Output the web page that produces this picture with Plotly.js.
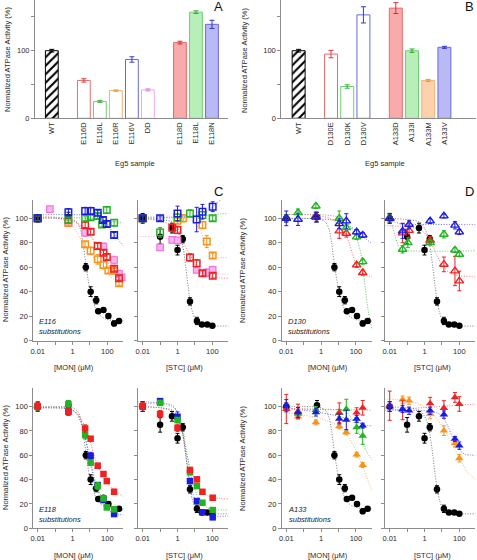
<!DOCTYPE html>
<html><head><meta charset="utf-8">
<script src="https://cdn.plot.ly/plotly-3.0.1.min.js"></script>
<style>html,body{margin:0;padding:0;background:#fff}#chart{width:477px;height:560px}</style>
</head><body><div id="chart"></div>
<script>
// ---------- Panel A / B bar data ----------
const catsA = ['WT','E116D','E116L','E116R','E116V','DD','E118D','E118L','E118N'];
const groupA = [0,1,1,1,1,1,2,2,2];
const valsA = [100,56,25,41,87,42,112,157,139];
const errA  = [2,2.5,1.5,1,4,1.5,2,2,6];

const catsB = ['WT','D130E','D130K','D130V','A133D','A133I','A133M','A133V'];
const groupB = [0,1,1,1,2,2,2,2];
const valsB = [100,95,47,153,163,100,56,105];
const errB  = [2,5.5,2.5,12,8,2.5,1.5,1.5];

// ---------- WT control (black circles) ----------
const wtMon_x = [0.01,0.58,5.8,11,23,30,60,115,245,470];
const wtMon_y = [100,101,60,40,33,24,25,20,14,16];
const wtMon_e = [3,4,3,4,3,1.5,1.5,2,2,1.5];
const wtMonFit_x = [0.005,0.1,1,2,3,4,6,9,13,20,35,80,200,900];
const wtMonFit_y = [100,100,99,96,90,80,61,45,35,27,21,17.5,16.5,16];
const wtStc_x = [0.01,0.1,0.48,1.0,2.0,5.2,13,25,51,100];
const wtStc_y = [100,85,92,74,83,32,16,13,13,12];
const wtStc_e = [4,6,4,4,3,3,3,1,1,1];
const wtStcFit_x = [0.005,0.1,0.5,1,1.5,2,3,4,5,7,10,20,50,900];
const wtStcFit_y = [100,99,97,92,86,78,60,45,35,24,18,13.5,12,12];

// ---------- E116 substitutions, MON ----------
const e116MonV_x = [0.01,0.58,5.3,11,28,56,93,245];
const e116MonV_y = [100,105,106,106,104.6,98.6,95.3,86.4];
const e116MonV_e = [3,3,3,3,2,2,2,2];
const e116MonVFit_x = [0.005,1,10,30,60,100,200,400,900];
const e116MonVFit_y = [103,103,102.5,101,98,95,89,83,77];
const e116MonL_x = [0.01,0.58,5.3,11,28,50,93,245];
const e116MonL_y = [100,98.6,100,100.8,101.9,95,106.8,96.4];
const e116MonL_e = [2,2,2,2,2,2,2.5,2.5];
const e116MonLFit_x = [0.005,1,10,100,900];
const e116MonLFit_y = [101,100.5,100,98,96];
const e116MonD_x = [0.01,5.3,11,28,60,93,245,470];
const e116MonD_y = [100,94.5,89,77.4,71.9,68.4,58.8,51];
const e116MonD_e = [2,2,2,2,2,2,2,2];
const e116MonDFit_x = [0.005,0.1,1,3,10,30,100,300,900];
const e116MonDFit_y = [101,100.5,98,94,86,76,64,55,50];
const e116MonR_x = [0.01,0.58,5.3,11,28,60,115,245,470];
const e116MonR_y = [100,96.4,78.7,73.5,66.5,61.8,57.2,57,46.9];
const e116MonR_e = [2,3,2,3,4,3,2,2,2];
const e116MonRFit_x = [0.005,0.1,0.5,1,3,10,30,100,300,900];
const e116MonRFit_y = [102,101,98,94,83,72,63,55,49,45];
const e116MonDD_x = [0.05,0.58,5.3,60,245,470,670];
const e116MonDD_y = [107.6,96,88.2,76.8,65.9,54.5,51.6];
const e116MonDD_e = [2,2,3,3,3,3,3];
const e116MonDDFit_x = [0.005,0.1,1,3,10,30,100,300,900];
const e116MonDDFit_y = [101,100,97,93,86,78,68,57,50];

// ---------- E116 substitutions, STC ----------
const e116StcV_x = [0.01,0.1,1,12.6,27,105];
const e116StcV_y = [100,100,104,99,105.4,109.5];
const e116StcV_e = [2,2,6,10,6,4];
const e116StcVFit_x = [0.005,1,10,30,100,300,900];
const e116StcVFit_y = [101,101,102,104,109,115,118];
const e116StcL_x = [0.01,0.1,1,5.2,27,105];
const e116StcL_y = [100,88.5,100.6,104,102.7,100];
const e116StcL_e = [3,4,3,3,3,2];
const e116StcLFit_x = [0.005,1,10,100,900];
const e116StcLFit_y = [100,100.5,101,103,104];
const e116StcR_x = [1,2.1,27,48,105];
const e116StcR_y = [98,100,94.5,81,69.5];
const e116StcR_e = [2,3,3,5,2];
const e116StcRFit_x = [0.005,1,5,10,20,40,80,200,900];
const e116StcRFit_y = [101,100.5,99,96,90,80,72,68,68];
const e116StcD_x = [0.01,0.5,1,5.2,12.6,27,105];
const e116StcD_y = [100,92.3,90.5,68,63.2,55,53];
const e116StcD_e = [2,3,3,3,3,2,2];
const e116StcDFit_x = [0.005,0.1,0.5,1,2,5,10,30,100,900];
const e116StcDFit_y = [100,98,94,89,81,71,63,56,52,51];
const e116StcDD_x = [0.1,0.5,1,12.6,48,105];
const e116StcDD_y = [76.3,82.3,82,57.8,55.6,57.8];
const e116StcDD_e = [2,2,2,2,3,3];
const e116StcDDFit_x = [0.005,0.1,1,3,10,30,100,900];
const e116StcDDFit_y = [85,84.5,80,72,62,57,55,54];

// ---------- D130 substitutions, MON ----------
const d130MonV_x = [0.01,0.047,0.5,11,28,110,245];
const d130MonV_y = [100,99.2,101,95.6,97.8,88.8,86.3];
const d130MonV_e = [6,5,4,4,6,2,2];
const d130MonVFit_x = [0.005,1,10,30,100,300,900];
const d130MonVFit_y = [100,99.5,98,95,90,84,79];
const d130MonK_x = [0.01,0.047,0.5,11,28,110,245];
const d130MonK_y = [100,104.6,110,100,92.3,84.7,64.5];
const d130MonK_e = [3,3,2,6,3,2,2];
const d130MonKFit_x = [0.005,1,10,30,100,200,300,500,800];
const d130MonKFit_y = [103,103,101,97,85,70,50,25,10];
const d130MonE_x = [0.01,0.5,11,28,110,245];
const d130MonE_y = [100,101.9,89.6,87.7,61.8,55.5];
const d130MonE_e = [3,3,6,3,2,2];
const d130MonEFit_x = [0.005,0.5,3,10,30,60,100,200,400,900];
const d130MonEFit_y = [103,102.5,100,95,85,72,63,56,53,52];

// ---------- D130 substitutions, STC ----------
const d130StcV_x = [0.01,0.055,0.13,2.1,13,56,100];
const d130StcV_y = [100,89.6,95,97.8,101.9,94.3,88.8];
const d130StcV_e = [4,6,3,2,1.5,3,2];
const d130StcVFit_x = [0.005,0.02,0.05,1,100,900];
const d130StcVFit_y = [99,97,95,95,95,95];
const d130StcK_x = [0.01,0.055,0.11,2.1,13,56,100];
const d130StcK_y = [100,74.6,80,80,86.9,74,70.5];
const d130StcK_e = [3,3,4,2,3,2,2];
const d130StcKFit_x = [0.005,0.012,0.02,0.04,0.1,900];
const d130StcKFit_y = [100,96,86,75,73.5,73.5];
const d130StcE_x = [0.01,0.055,0.13,2.1,13,56,100];
const d130StcE_y = [100,88,90,82,62.3,56.9,48.7];
const d130StcE_e = [3,8,6,3,6,12,8];
const d130StcEFit_x = [0.005,0.1,0.5,1,2,5,10,30,100,900];
const d130StcEFit_y = [94,93,91,88,82,70,62,55,53,52];

// ---------- E118 substitutions, MON ----------
const e118MonD_x = [0.01,0.58,5.3,11,28,60,93,245];
const e118MonD_y = [100.4,95.7,82,73.6,51.4,44.6,38.8,30];
const e118MonD_e = [3,3,3,1.5,2,2,2,2];
const e118MonDFit_x = [0.005,0.5,1,2,3,5,10,20,30,60,100,250,900];
const e118MonDFit_y = [99,98.5,97,94,90,84,72,57,50,42,37,31,26];
const e118MonL_x = [0.01,0.58,5.3,11,28,60,93,245];
const e118MonL_y = [100,102,76.6,53.9,34.7,24.6,17.2,15.6];
const e118MonL_e = [3,3,3,2,3,2,2,2];
const e118MonLFit_x = [0.005,0.5,1,2,3,5,8,12,20,40,100,300,900];
const e118MonLFit_y = [99,98.5,97,93,88,78,64,52,40,28,20,16,15];
const e118MonN_x = [0.01,0.58,11,28,60,245];
const e118MonN_y = [100,96,59.4,35.5,23.2,11.7];
const e118MonN_e = [4,3,3,2,2,2];
const e118MonNFit_x = [0.005,0.5,1,2,3,5,8,12,20,40,100,300,900];
const e118MonNFit_y = [99,98.5,97,93,87,76,62,50,37,25,16,12,11];

// ---------- E118 substitutions, STC ----------
const e118StcD_x = [0.01,0.1,1,5.2,13,27,105];
const e118StcD_y = [100.4,93.8,82.6,47.9,40.2,30,25.1];
const e118StcD_e = [3,3,3,2,2,1.5,1.5];
const e118StcDFit_x = [0.005,0.1,0.5,1,2,3,5,10,20,50,100,300,900];
const e118StcDFit_y = [100,99,96,90,77,65,51,40,33,27,25.5,24.5,24];
const e118StcL_x = [0.1,1,5.2,13,27,105];
const e118StcL_y = [103,89,46,34.7,21,15];
const e118StcL_e = [2,2,2,2,1.5,1.5];
const e118StcLFit_x = [0.005,0.5,1,2,3,5,10,20,50,100,900];
const e118StcLFit_y = [103,100,95,82,67,48,32,22,17,15.5,15];
const e118StcN_x = [0.01,0.1,1,5.2,13,27,105];
const e118StcN_y = [100,104.5,91.6,38.8,22.4,13.1,9];
const e118StcN_e = [4,2,4,2,2,1.5,1.5];
const e118StcNFit_x = [0.005,0.5,1,2,3,5,10,20,50,100,900];
const e118StcNFit_y = [104,101,95,78,60,40,23,15,11,10,10];

// ---------- A133 substitutions, MON ----------
const a133MonV_x = [0.01,0.047,0.5,11,28,110,245];
const a133MonV_y = [100.7,95.2,95.2,89.8,89,89.8,84.3];
const a133MonV_e = [5,4,3,4,8,3,2];
const a133MonVFit_x = [0.005,0.1,1,10,100,300,900];
const a133MonVFit_y = [99,97,95,92,88,85,84];
const a133MonI_x = [0.047,0.5,11,28,110,245];
const a133MonI_y = [94,97,94.7,98,83,76];
const a133MonI_e = [3,3,3,8,5,7];
const a133MonIFit_x = [0.005,1,10,30,60,100,200,400,900];
const a133MonIFit_y = [98,97.5,97,95,90,84,74,63,56];
const a133MonM_x = [0.047,0.5,11,28,110,245];
const a133MonM_y = [91.7,87,83.7,78.8,60.5,52];
const a133MonM_e = [2,2,2,2,2,2];
const a133MonMFit_x = [0.005,0.1,1,10,30,100,300,900];
const a133MonMFit_y = [95,93,90,84,77,64,47,30];
const a133MonD_x = [0.01,0.047,11,110,245];
const a133MonD_y = [98,96,95,95,99];
const a133MonD_e = [12,6,8,4,6];
const a133MonDFit_x = [0.005,900];
const a133MonDFit_y = [98.5,97];

// ---------- A133 substitutions, STC ----------
const a133StcD_x = [0.01,0.055,2.1,13,56,100];
const a133StcD_y = [100.7,97.2,102.6,98.8,107.5,102.1];
const a133StcD_e = [12,8,5,6,4,6];
const a133StcDFit_x = [0.005,900];
const a133StcDFit_y = [97,102];
const a133StcM_x = [0.055,0.13,2.1,13,56,100];
const a133StcM_y = [105.7,104.8,93.9,80.2,69.8,57.5];
const a133StcM_e = [3,3,4,4,3,3];
const a133StcMFit_x = [0.005,0.1,1,3,10,30,100,300,900];
const a133StcMFit_y = [106,105,100,94,84,72,58,46,40];
const a133StcV_x = [0.01,0.055,0.13,2.1,13,56,100];
const a133StcV_y = [100,98,96.6,96.6,93.4,73.4,67.9];
const a133StcV_e = [4,3,3,3,3,2,3];
const a133StcVFit_x = [0.005,1,5,10,20,40,80,200,900];
const a133StcVFit_y = [97,96.5,95,92,85,75,66,61,60];

// ================= drawing =================
const W = 477, H = 560;
const FONT = '"Liberation Sans", Arial, sans-serif';
const AXC = '#8c8c8c', TXT = '#2a2a2a';
const px = v => v / W, py = v => 1 - v / H;

const C = {red:'#ee2222', green:'#22b422', blue:'#1c1ce0', orange:'#f7941d', pink:'#ee78dc', black:'#000'};
const CF = {red:'#f07070', green:'#5ec85e', blue:'#6a6ae6', orange:'#f8b070', pink:'#f4a8ec', black:'#777'};

const traces = [];
const layout = {
  width: W, height: H, margin: {l:0, r:0, t:0, b:0},
  paper_bgcolor: '#fff', plot_bgcolor: 'rgba(0,0,0,0)',
  showlegend: false, barmode: 'overlay',
  font: {family: FONT, size: 7.5, color: TXT},
  annotations: []
};

function baseAxis(extra) {
  return Object.assign({showline:true, linecolor:AXC, linewidth:1, showgrid:false, zeroline:false,
    ticks:'outside', ticklen:3, tickcolor:AXC, tickwidth:1, fixedrange:true,
    tickfont:{family:FONT, size:7.5, color:TXT}}, extra);
}

// bar styles (per bar, kept apart from data)
const barFillA = ['hatch','#fff','#fff','#fff','#fff','#fff','#f9aaaa','#b8efb8','#b9b9f6'];
const barLineA = ['#000','#e86c6c','#70cf70','#f0b274','#6a6ad8','#f0a8ee','#e86c6c','#70cf70','#6a6ad8'];
const barErrA  = ['#000','#e03a3a','#3aae3a','#e89a48','#3a3ac4','#e07ee0','#d83030','#30a830','#3030c8'];
const barFillB = ['hatch','#fff','#fff','#fff','#f9aaaa','#b8efb8','#fcd2ac','#b9b9f6'];
const barLineB = ['#000','#e86c6c','#70cf70','#6a6ad8','#e86c6c','#70cf70','#f0b274','#6a6ad8'];
const barErrB  = ['#000','#e03a3a','#3aae3a','#3a3ac4','#d83030','#30a830','#e89a48','#3030c8'];

function barPanel(n, cats, groups, vals, errs, fills, lines, errc) {
  const xa = n === 1 ? 'x' : 'x' + n, ya = n === 1 ? 'y' : 'y' + n;
  const pos = cats.map((c, i) => i + groups[i]);
  cats.forEach((c, i) => {
    const marker = fills[i] === 'hatch'
      ? {color:'#fff', line:{color:lines[i], width:1}, pattern:{shape:'/', fgcolor:'#000', bgcolor:'#fff', size:6, solidity:0.35}}
      : {color:fills[i], line:{color:lines[i], width:1}};
    traces.push({type:'bar', x:[pos[i]], y:[vals[i]], width:0.8, xaxis:xa, yaxis:ya, marker,
      error_y:{type:'data', array:[errs[i]], color:errc[i], thickness:1, width:2.5}, hoverinfo:'skip'});
  });
  return pos;
}

const posA = barPanel(1, catsA, groupA, valsA, errA, barFillA, barLineA, barErrA);
const posB = barPanel(2, catsB, groupB, valsB, errB, barFillB, barLineB, barErrB);

const yBar = {domain:[py(118.3), 1], range:[0,175], tickvals:[0,50,100,150], ticktext:['0','','100','']};
layout.xaxis  = baseAxis({domain:[px(35), px(228)], range:[-1.05, 11.0], tickvals:posA, ticktext:catsA, tickangle:-90, ticks:'', anchor:'y'});
layout.yaxis  = baseAxis(Object.assign({anchor:'x'}, yBar));
layout.xaxis2 = baseAxis({domain:[px(281.3), px(476)], range:[-1.07, 10.95], tickvals:posB, ticktext:catsB, tickangle:-90, ticks:'', anchor:'y2'});
layout.yaxis2 = baseAxis(Object.assign({anchor:'x2'}, yBar));

// scatter panels
const colL = [{l:33.35}, {l:138.35}, {l:281.95}, {l:385.35}];
const rowY = {2:[200, 340.5], 3:[388.3, 528.3]};
function sAxes(n, col, row, labels) {
  const l = colL[col].l;
  layout['xaxis' + n] = baseAxis({type:'log', domain:[px(l), px(l + 90)], range:[-2.25, 2.92],
    tickvals:[0.01,0.1,1,10,100], ticktext:['0.01','','1','','100'], anchor:'y' + n});
  layout['yaxis' + n] = baseAxis({domain:[py(rowY[row][1]), py(rowY[row][0])], range:[0,115],
    tickvals:[0,20,40,60,80,100], showticklabels:labels, anchor:'x' + n});
}
sAxes(3,0,2,true); sAxes(4,1,2,false); sAxes(5,2,2,true); sAxes(6,3,2,false);
sAxes(7,0,3,true); sAxes(8,1,3,false); sAxes(9,2,3,true); sAxes(10,3,3,false);

function fit(n, fxs, fys, col) {
  traces.push({type:'scatter', mode:'lines', x:fxs, y:fys, xaxis:'x'+n, yaxis:'y'+n,
    line:{color:CF[col], width:1, dash:'1px,1.6px', shape:'spline', smoothing:0.8}, hoverinfo:'skip'});
}
function pts(n, xs, ys, es, col, kind) {
  let marker;
  if (kind === 'circle') marker = {symbol:'circle', size:6.5, color:C.black};
  else if (kind === 'osq') marker = {symbol:'square-open', size:6.5, color:C[col], line:{color:C[col], width:1.5}};
  else if (kind === 'hsq') marker = {symbol:'square', size:6.5, color:'#f7b4ee', line:{color:C.pink, width:1.2}};
  else if (kind === 'otri') marker = {symbol:'triangle-up-open', size:7.5, color:C[col], line:{color:C[col], width:1.4}};
  else if (kind === 'sq') marker = {symbol:'square', size:6.5, color:C[col]};
  else marker = {symbol:'triangle-up', size:7.5, color:C[col]};
  traces.push({type:'scatter', mode:'markers', x:xs, y:ys, xaxis:'x'+n, yaxis:'y'+n, marker, cliponaxis:false,
    error_y:{type:'data', array:es, color:C[col], thickness:1, width:2}, hoverinfo:'skip'});
}

// fits first (beneath markers)
fit(3, e116MonVFit_x, e116MonVFit_y, 'blue'); fit(3, e116MonLFit_x, e116MonLFit_y, 'green');
fit(3, e116MonDFit_x, e116MonDFit_y, 'red'); fit(3, e116MonRFit_x, e116MonRFit_y, 'orange');
fit(3, e116MonDDFit_x, e116MonDDFit_y, 'pink'); fit(3, wtMonFit_x, wtMonFit_y, 'black');
fit(4, e116StcVFit_x, e116StcVFit_y, 'blue'); fit(4, e116StcLFit_x, e116StcLFit_y, 'green');
fit(4, e116StcRFit_x, e116StcRFit_y, 'orange'); fit(4, e116StcDFit_x, e116StcDFit_y, 'red');
fit(4, e116StcDDFit_x, e116StcDDFit_y, 'pink'); fit(4, wtStcFit_x, wtStcFit_y, 'black');
fit(5, d130MonVFit_x, d130MonVFit_y, 'blue'); fit(5, d130MonKFit_x, d130MonKFit_y, 'green');
fit(5, d130MonEFit_x, d130MonEFit_y, 'red'); fit(5, wtMonFit_x, wtMonFit_y, 'black');
fit(6, d130StcVFit_x, d130StcVFit_y, 'blue'); fit(6, d130StcKFit_x, d130StcKFit_y, 'green');
fit(6, d130StcEFit_x, d130StcEFit_y, 'red'); fit(6, wtStcFit_x, wtStcFit_y, 'black');
fit(7, e118MonDFit_x, e118MonDFit_y, 'red'); fit(7, e118MonLFit_x, e118MonLFit_y, 'green');
fit(7, e118MonNFit_x, e118MonNFit_y, 'blue'); fit(7, wtMonFit_x, wtMonFit_y, 'black');
fit(8, e118StcDFit_x, e118StcDFit_y, 'red'); fit(8, e118StcLFit_x, e118StcLFit_y, 'green');
fit(8, e118StcNFit_x, e118StcNFit_y, 'blue'); fit(8, wtStcFit_x, wtStcFit_y, 'black');
fit(9, a133MonVFit_x, a133MonVFit_y, 'blue'); fit(9, a133MonIFit_x, a133MonIFit_y, 'green');
fit(9, a133MonMFit_x, a133MonMFit_y, 'orange'); fit(9, a133MonDFit_x, a133MonDFit_y, 'red');
fit(9, wtMonFit_x, wtMonFit_y, 'black');
fit(10, a133StcDFit_x, a133StcDFit_y, 'red'); fit(10, a133StcMFit_x, a133StcMFit_y, 'orange');
fit(10, a133StcVFit_x, a133StcVFit_y, 'blue'); fit(10, wtStcFit_x, wtStcFit_y, 'black');

// points
pts(3, wtMon_x, wtMon_y, wtMon_e, 'black', 'circle');
pts(3, e116MonDD_x, e116MonDD_y, e116MonDD_e, 'pink', 'hsq');
pts(3, e116MonR_x, e116MonR_y, e116MonR_e, 'orange', 'osq');
pts(3, e116MonD_x, e116MonD_y, e116MonD_e, 'red', 'osq');
pts(3, e116MonL_x, e116MonL_y, e116MonL_e, 'green', 'osq');
pts(3, e116MonV_x, e116MonV_y, e116MonV_e, 'blue', 'osq');
pts(4, wtStc_x, wtStc_y, wtStc_e, 'black', 'circle');
pts(4, e116StcDD_x, e116StcDD_y, e116StcDD_e, 'pink', 'hsq');
pts(4, e116StcR_x, e116StcR_y, e116StcR_e, 'orange', 'osq');
pts(4, e116StcD_x, e116StcD_y, e116StcD_e, 'red', 'osq');
pts(4, e116StcL_x, e116StcL_y, e116StcL_e, 'green', 'osq');
pts(4, e116StcV_x, e116StcV_y, e116StcV_e, 'blue', 'osq');
pts(5, wtMon_x, wtMon_y, wtMon_e, 'black', 'circle');
pts(5, d130MonE_x, d130MonE_y, d130MonE_e, 'red', 'otri');
pts(5, d130MonK_x, d130MonK_y, d130MonK_e, 'green', 'otri');
pts(5, d130MonV_x, d130MonV_y, d130MonV_e, 'blue', 'otri');
pts(6, wtStc_x, wtStc_y, wtStc_e, 'black', 'circle');
pts(6, d130StcE_x, d130StcE_y, d130StcE_e, 'red', 'otri');
pts(6, d130StcK_x, d130StcK_y, d130StcK_e, 'green', 'otri');
pts(6, d130StcV_x, d130StcV_y, d130StcV_e, 'blue', 'otri');
pts(7, wtMon_x, wtMon_y, wtMon_e, 'black', 'circle');
pts(7, e118MonN_x, e118MonN_y, e118MonN_e, 'blue', 'sq');
pts(7, e118MonL_x, e118MonL_y, e118MonL_e, 'green', 'sq');
pts(7, e118MonD_x, e118MonD_y, e118MonD_e, 'red', 'sq');
pts(8, wtStc_x, wtStc_y, wtStc_e, 'black', 'circle');
pts(8, e118StcN_x, e118StcN_y, e118StcN_e, 'blue', 'sq');
pts(8, e118StcL_x, e118StcL_y, e118StcL_e, 'green', 'sq');
pts(8, e118StcD_x, e118StcD_y, e118StcD_e, 'red', 'sq');
pts(9, wtMon_x, wtMon_y, wtMon_e, 'black', 'circle');
pts(9, a133MonM_x, a133MonM_y, a133MonM_e, 'orange', 'tri');
pts(9, a133MonI_x, a133MonI_y, a133MonI_e, 'green', 'tri');
pts(9, a133MonD_x, a133MonD_y, a133MonD_e, 'red', 'tri');
pts(9, a133MonV_x, a133MonV_y, a133MonV_e, 'blue', 'tri');
pts(10, wtStc_x, wtStc_y, wtStc_e, 'black', 'circle');
pts(10, a133StcM_x, a133StcM_y, a133StcM_e, 'orange', 'tri');
pts(10, a133StcD_x, a133StcD_y, a133StcD_e, 'red', 'tri');
pts(10, a133StcV_x, a133StcV_y, a133StcV_e, 'blue', 'tri');

// annotations (titles, panel letters, labels)
function ann(text, x, y, opts) {
  layout.annotations.push(Object.assign({text, xref:'paper', yref:'paper', x:px(x), y:py(y),
    showarrow:false, font:{family:FONT, size:7.5, color:TXT}, xanchor:'center', yanchor:'middle'}, opts || {}));
}
const YT = 'Normalized ATPase Activity (%)';
ann(YT, 8, 60, {textangle:-90});
ann(YT, 245, 60, {textangle:-90});
ann(YT, 5, 270, {textangle:-90});
ann(YT, 242, 270, {textangle:-90});
ann(YT, 5, 458, {textangle:-90});
ann(YT, 242, 458, {textangle:-90});
ann('Eg5 sample', 135, 163.5);
ann('Eg5 sample', 384.5, 163.5);
ann('[MON] (μM)', 73.5, 367.3); ann('[STC] (μM)', 184, 367.3);
ann('[MON] (μM)', 328, 367.3); ann('[STC] (μM)', 432.5, 367.3);
ann('[MON] (μM)', 73.5, 555); ann('[STC] (μM)', 184, 555);
ann('[MON] (μM)', 328, 555); ann('[STC] (μM)', 432.5, 555);
const LET = {font:{family:FONT, size:13, color:'#111'}};
ann('A', 218, 7, LET); ann('B', 469.5, 7, LET); ann('C', 218, 191, LET); ann('D', 469.5, 191, LET);
const SUB = {xanchor:'left', align:'left', font:{family:FONT, size:7.5, color:'#222'}};
ann('<i>E116<br>substitutions</i>', 37, 326.7, SUB);
ann('<i>D130<br>substitutions</i>', 286, 326.7, SUB);
ann('<i>E118<br>substitutions</i>', 37, 514.3, SUB);
ann('<i>A133<br>substitutions</i>', 286, 514.3, SUB);

Plotly.newPlot('chart', traces, layout, {staticPlot:true, displayModeBar:false});
</script></body></html>
